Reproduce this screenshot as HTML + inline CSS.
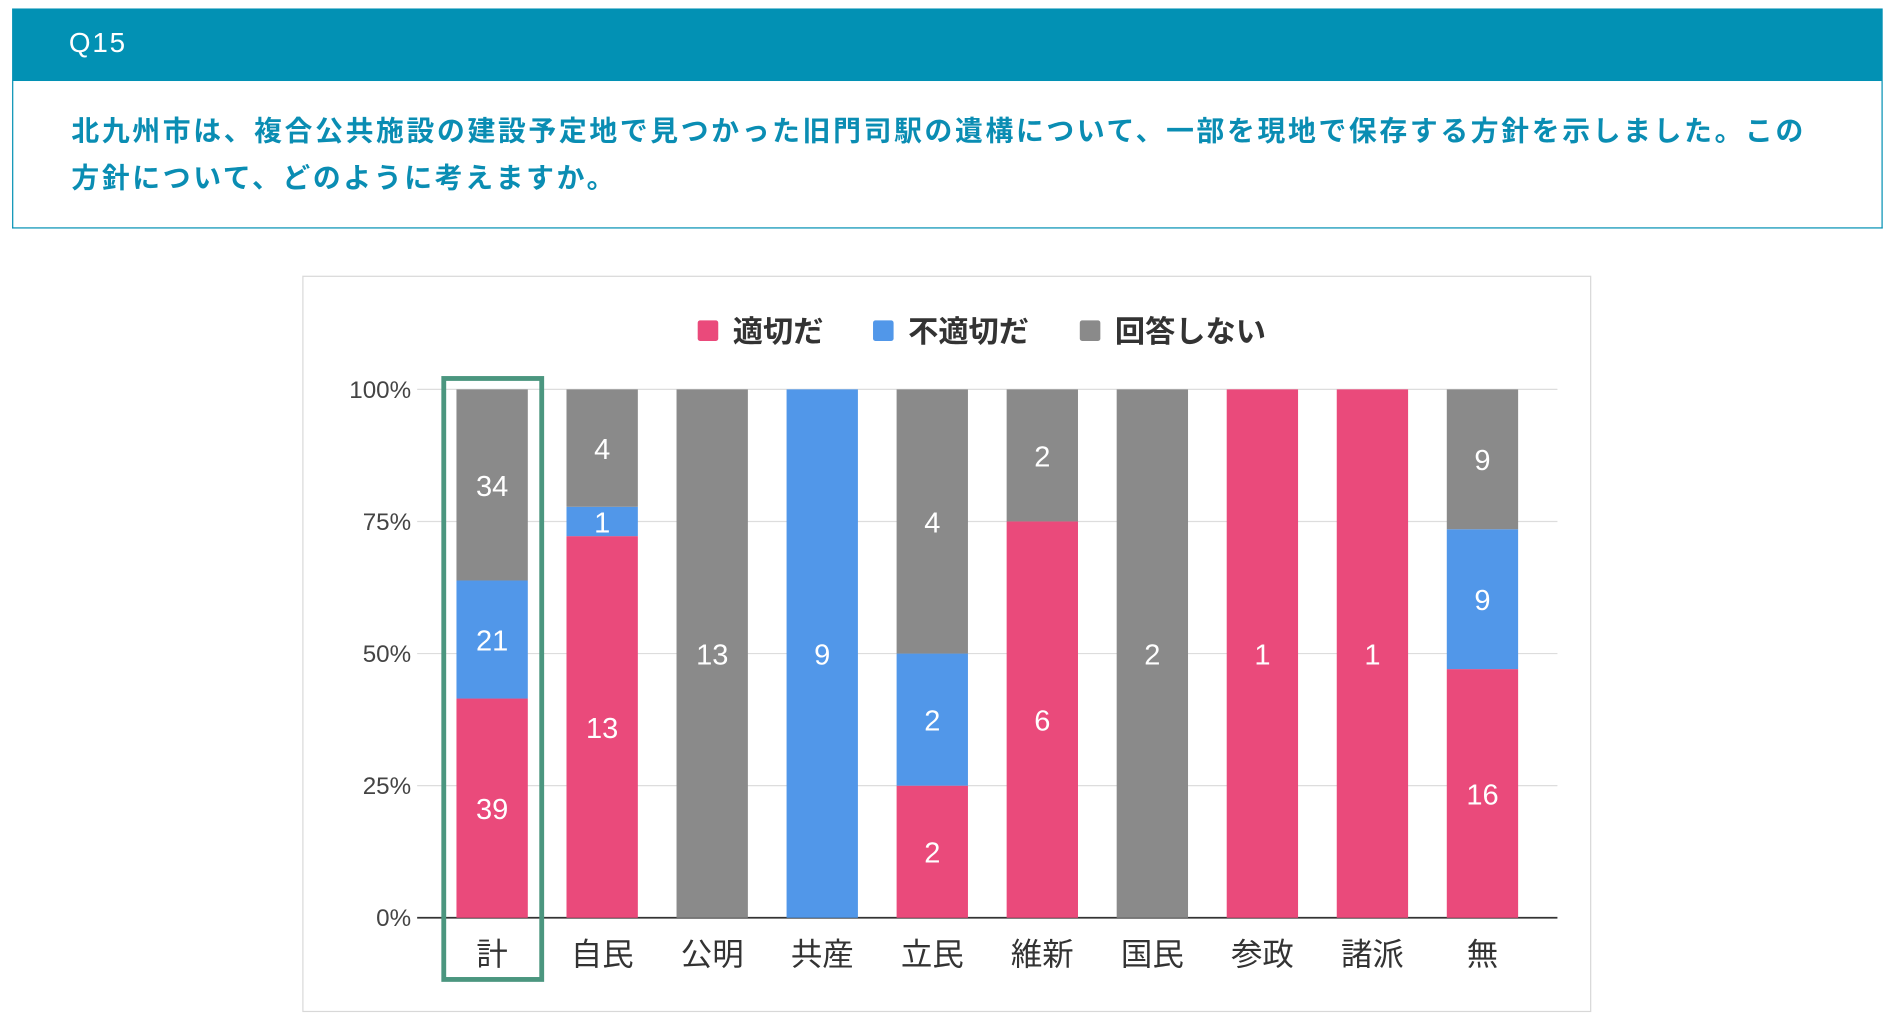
<!DOCTYPE html>
<html><head><meta charset="utf-8">
<style>
html,body{margin:0;padding:0;width:1896px;height:1024px;overflow:hidden;background:#fff;}
#wrap{position:absolute;left:0;top:0;width:1568px;height:847px;transform:scale(1.20918);transform-origin:0 0;font-family:"Liberation Sans","Noto Sans CJK JP",sans-serif;}
#hdr{position:absolute;left:10px;top:7px;width:1547px;height:60px;background:#0291b4;color:#fff;font-size:23px;}
#hdr span{position:absolute;left:47px;top:15px;letter-spacing:1.5px;}
#q{position:absolute;left:10px;top:67px;width:1545px;height:121px;border:1px solid #0291b4;border-top:none;}
#q div{position:absolute;left:48px;top:22px;width:1500px;white-space:nowrap;color:#0a8db3;font-size:23px;letter-spacing:2.2px;font-weight:bold;line-height:39px;}
#chartbox{position:absolute;left:250px;top:228px;width:1064px;height:607px;border:1px solid #d8d8d8;}
</style></head><body>
<div id="wrap">
<div id="hdr"><span>Q15</span></div>
<div id="q"><div>北九州市は、複合公共施設の建設予定地で見つかった旧門司駅の遺構について、一部を現地で保存する方針を示しました。この<br>方針について、どのように考えますか。</div></div>
<div id="chartbox"></div>
<svg id="chart" width="1568" height="847" style="position:absolute;left:0;top:0"></svg>
</div>
<script>
const categories=["計","自民","公明","共産","立民","維新","国民","参政","諸派","無"];
const appropriate=[39,13,0,0,2,6,0,1,1,16];
const inappropriate=[21,1,0,9,2,0,0,0,0,9];
const noAnswer=[34,4,13,0,4,2,2,0,0,9];
const tickValues=[0,25,50,75,100];
const seriesNames=["適切だ","不適切だ","回答しない"];
const colors=["#ea4a7b","#5197e9","#8a8a8a"];
const NS="http://www.w3.org/2000/svg";
const svg=document.getElementById('chart');
const y0=759,y100=322,x0=345,x1=1288,firstC=407,step=91,bw=59;
function yScale(p){return y0-(y0-y100)*p/100;}
function xCenter(i){return firstC+i*step;}
function mk(tag,attrs,parent){const e=document.createElementNS(NS,tag);for(const k in attrs)e.setAttribute(k,attrs[k]);(parent||svg).appendChild(e);return e;}
tickValues.forEach(t=>{
  const l=mk('line',{x1:x0,x2:x1,y1:yScale(t),y2:yScale(t),stroke:t===0?'#333':'#ddd','stroke-width':t===0?1.5:1});
  
  
  const tx=mk('text',{x:340,y:yScale(t)+7,'text-anchor':'end','font-size':20,fill:'#444'});
  tx.textContent=t+'%';
  
  
});
const series=[appropriate,inappropriate,noAnswer];
categories.forEach((c,i)=>{
  const total=appropriate[i]+inappropriate[i]+noAnswer[i];
  let acc=0;
  series.forEach((s,k)=>{
    const v=s[i]; if(!v) return;
    const ya=yScale(acc/total*100), yb=yScale((acc+v)/total*100);
    const r=mk('rect',{x:xCenter(i)-bw/2,y:yb,width:bw,height:ya-yb,fill:colors[k]});
    
    
    const t=mk('text',{x:xCenter(i),y:(ya+yb)/2+9,'text-anchor':'middle','font-size':24,fill:'#fff'});
    t.textContent=v;
    
    
    acc+=v;
  });
  const cl=mk('text',{x:xCenter(i),y:798,'text-anchor':'middle','font-size':26,fill:'#333'});
  cl.textContent=c;
  
  
});
const hl=mk('rect',{x:xCenter(0)-40,y:313,width:81,height:497,fill:'none',stroke:'#4b967f','stroke-width':4});


const legX=[577,722,893];
seriesNames.forEach((n,k)=>{
  const r=mk('rect',{x:legX[k],y:265,width:17,height:17,fill:colors[k],rx:2});
  
  
  const t=mk('text',{x:legX[k]+29,y:283,'font-size':25,fill:'#333','font-weight':'bold'});
  t.textContent=n;
  
  
});
</script>
</body></html>
